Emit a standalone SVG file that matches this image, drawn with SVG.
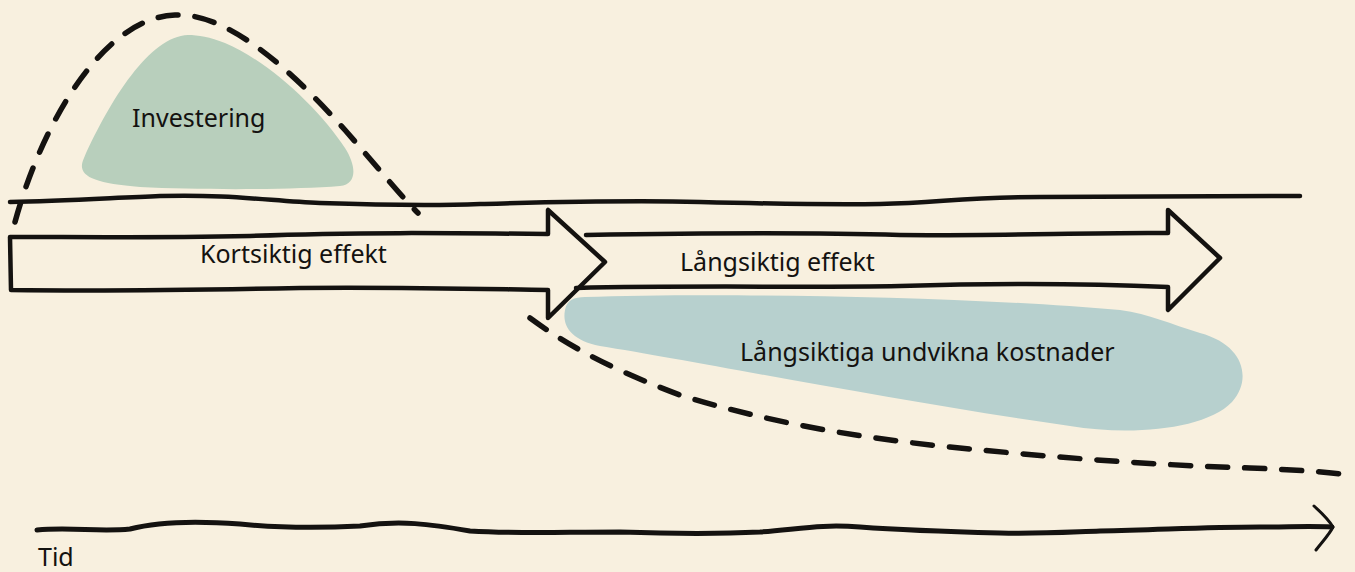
<svg xmlns="http://www.w3.org/2000/svg" width="1355" height="572" viewBox="0 0 1355 572">
<defs>
<style>
.ink{fill:none;stroke:#141210;stroke-width:4.5;stroke-linecap:round;stroke-linejoin:round}
.dash{fill:none;stroke:#141210;stroke-width:5.5;stroke-linecap:round;stroke-dasharray:20 17}
.lbl{font-family:"Noto Sans","Open Sans",sans-serif;font-size:25px;fill:#141210}
</style>
</defs>
<rect width="1355" height="572" fill="#F8F0DF"/>
<g id="investering">
<path d="M188,35 C150,36 110,100 84,158 C76,175 90,183 140,187 C200,190 290,190 340,186 C358,184 356,165 345,148 C320,110 270,62 225,43 C210,37 198,35 188,35 Z" fill="#B8CFBC"/>
<text class="lbl" x="132" y="127">Investering</text>
</g>
<g id="undvikna">
<path d="M585,297 C700,293 950,295 1120,310 C1150,314 1170,324 1200,333 C1245,345 1252,380 1232,402 C1205,430 1130,436 1070,426 C900,402 700,362 600,346 C570,340 562,325 565,310 C567,300 574,297 585,297 Z" fill="#B7D0CE"/>
<text class="lbl" x="740" y="361">Långsiktiga undvikna kostnader</text>
</g>
<g id="connectors">
<path class="ink" d="M10,202 C60,201 110,198 160,196 C230,194 270,201 320,203 C380,205 430,206 480,204 C560,202 620,200 700,202 C780,204 820,205 880,204 C940,203 960,197 1040,197 C1120,197 1200,197 1300,196"/>
<path class="dash" d="M15,222 C40,130 100,18 175,15 C232,12 300,80 345,130 C380,170 400,195 418,213"/>
<path class="dash" d="M530,318 C560,340 600,365 680,395 C760,420 850,437 950,447 C1050,457 1150,465 1250,468 C1300,470 1330,472 1355,476"/>
</g>
<g id="kortsiktig">
<path class="ink" d="M548,234 C450,233 350,232 250,236 C150,238 80,237 10,237 L11,290 C80,291 200,290 300,288 C400,287 480,289 548,290 L548,318 L605,262 L548,210 Z"/>
<text class="lbl" x="200" y="263">Kortsiktig effekt</text>
</g>
<g id="langsiktig">
<path class="ink" d="M586,235 C700,233 800,232 900,235 C1000,236 1100,232 1168,233 L1168,210 L1220,258 L1168,310 L1168,287 C1100,284 1000,283 900,286 C800,288 700,285 576,288"/>
<text class="lbl" x="680" y="271">Långsiktig effekt</text>
</g>
<g id="tid">
<path class="ink" style="stroke-width:5" d="M37,530 C70,527 100,532 130,529 C160,521 200,521 240,524 C280,528 320,528 360,526 C400,520 430,524 470,531 C520,534 560,532 620,532 C680,534 720,534 760,532 C800,529 820,524 860,527 C900,530 960,532 1000,533 C1040,534 1070,532 1100,531 C1160,530 1200,527 1260,527 C1290,527 1310,526 1332,527"/>
<path class="ink" style="stroke-width:3" d="M1314,506 C1324,515 1330,522 1333,527 C1329,535 1322,542 1316,550"/>
<text class="lbl" x="38" y="566">Tid</text>
</g>
</svg>
